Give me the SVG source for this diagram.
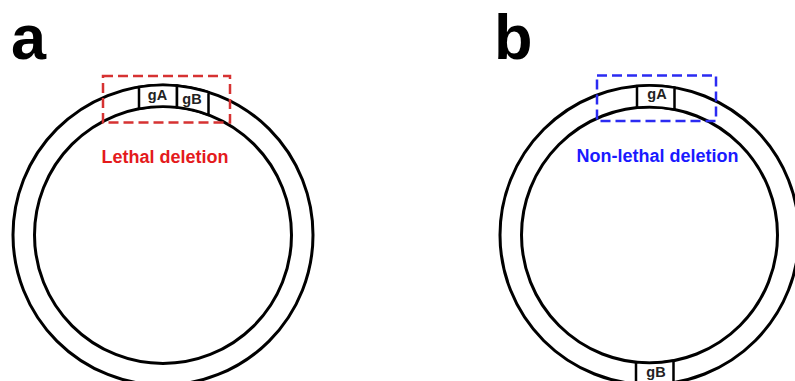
<svg xmlns="http://www.w3.org/2000/svg" width="795" height="381" viewBox="0 0 795 381">
<style>
.ring{fill:none;stroke:#000;stroke-width:3}
.box{fill:#fff;stroke:#000;stroke-width:2.5;stroke-linejoin:miter}
.gl{font-family:"Liberation Sans",Arial,sans-serif;font-weight:bold;font-size:14.5px;fill:#222;text-anchor:middle}
.panel{font-family:"Liberation Sans",Arial,sans-serif;font-weight:bold;font-size:63px;fill:#000}
.lab{font-family:"Liberation Sans",Arial,sans-serif;font-weight:bold;font-size:18px;text-anchor:middle}
.dash{fill:none;stroke-width:2.5;stroke-dasharray:10 5}
</style>
<rect width="795" height="381" fill="#fff"/>
<g id="panel-a">
  <text class="panel" x="11" y="59">a</text>
  <g id="plasmid-a">
    <circle class="ring" cx="163" cy="235" r="150"/>
    <circle class="ring" cx="163" cy="235" r="128.5"/>
  </g>
  <g id="gA-a">
    <path class="box" d="M139,86.9 A150,150 0 0 1 177,85.65 L177,107.3 A128.5,128.5 0 0 0 139,108.8 Z"/>
    <text class="gl" x="157.5" y="99.5">gA</text>
  </g>
  <g id="gB-a">
    <path class="box" d="M177,85.65 A150,150 0 0 1 208.5,92.1 L208.5,114.8 A128.5,128.5 0 0 0 177,107.3 Z"/>
    <text class="gl" x="192" y="103.5">gB</text>
  </g>
  <g id="deletion-a">
    <rect class="dash" x="103" y="76" width="127" height="46.5" stroke="#d63232"/>
    <text class="lab" x="165" y="162.5" fill="#e41a1c">Lethal deletion</text>
  </g>
</g>
<g id="panel-b">
  <text class="panel" x="494" y="59">b</text>
  <g id="plasmid-b">
    <circle class="ring" cx="649.5" cy="235" r="149.5"/>
    <circle class="ring" cx="649.5" cy="235" r="128"/>
  </g>
  <g id="gA-b">
    <path class="box" d="M637,86 A149.5,149.5 0 0 1 674.5,87.6 L674.5,109.5 A128,128 0 0 0 637,107.6 Z"/>
    <text class="gl" x="657" y="98.5">gA</text>
  </g>
  <g id="gB-b">
    <path class="box" d="M636,362.3 A128,128 0 0 0 673.5,360.7 L673.5,382.6 A149.5,149.5 0 0 1 636,383.9 Z"/>
    <text class="gl" x="656" y="376.5">gB</text>
  </g>
  <g id="deletion-b">
    <rect class="dash" x="597" y="75.5" width="119" height="45.5" stroke="#2b2bf2"/>
    <text class="lab" x="657.5" y="161.5" fill="#1a1aff">Non-lethal deletion</text>
  </g>
</g>
<g id="connectors"></g>
</svg>
